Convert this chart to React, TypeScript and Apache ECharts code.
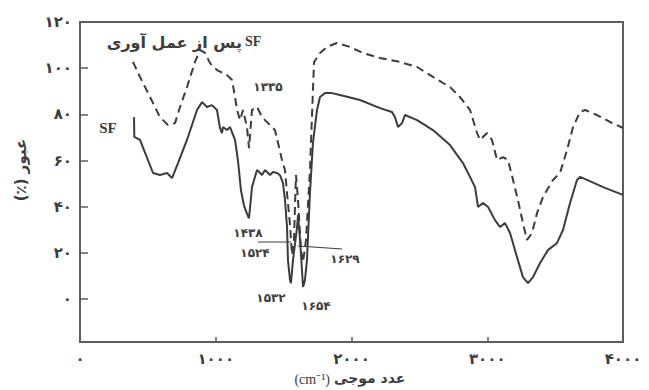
import React, { useEffect, useRef } from "react";
import * as echarts from "echarts";

// Wavenumber (cm^-1) / transmittance (%) for SF (solid)
const solidX = [398, 400, 442, 538, 589, 641, 678, 722, 788, 862, 899, 936, 972, 1009, 1031, 1046, 1053, 1083, 1105, 1142, 1164, 1186, 1208, 1230, 1245, 1267, 1304, 1341, 1363, 1400, 1422, 1451, 1473, 1495, 1510, 1525, 1532, 1547, 1554, 1569, 1599, 1606, 1621, 1643, 1657, 1672, 1694, 1716, 1746, 1768, 1805, 1856, 1915, 2063, 2210, 2298, 2320, 2343, 2372, 2394, 2483, 2600, 2726, 2821, 2873, 2910, 2932, 2969, 3006, 3057, 3094, 3131, 3168, 3219, 3263, 3300, 3337, 3389, 3447, 3514, 3558, 3610, 3661, 3683, 3735, 3853, 4000];
const solidY = [78.8, 70.2, 68.9, 54.6, 53.7, 54.6, 52.4, 58.9, 68.9, 81.9, 85.3, 83.2, 84.0, 81.9, 74.1, 71.9, 74.5, 73.2, 74.5, 68.9, 59.8, 47.0, 40.5, 37.0, 35.0, 48.5, 55.9, 53.7, 55.9, 53.7, 55.0, 54.6, 53.7, 50.3, 42.9, 31.2, 16.9, 8.2, 6.9, 16.9, 31.2, 36.4, 25.6, 5.2, 8.2, 16.9, 45.9, 67.6, 81.9, 87.5, 89.2, 89.2, 88.4, 86.2, 82.7, 81.0, 78.8, 74.5, 76.2, 79.7, 77.5, 73.2, 66.7, 58.9, 52.9, 48.5, 39.9, 41.6, 39.9, 34.2, 31.2, 32.9, 28.6, 18.2, 9.5, 6.9, 9.5, 15.6, 21.2, 24.3, 29.9, 41.6, 51.6, 52.9, 51.6, 48.5, 45.1];

// SF after treatment (dashed)
const dashedX = [390, 442, 516, 589, 648, 700, 737, 788, 847, 884, 921, 958, 1009, 1083, 1120, 1142, 1157, 1179, 1201, 1230, 1245, 1267, 1304, 1341, 1385, 1436, 1459, 1488, 1510, 1525, 1547, 1562, 1576, 1591, 1606, 1628, 1643, 1665, 1694, 1724, 1768, 1819, 1893, 1988, 2084, 2210, 2357, 2483, 2600, 2726, 2799, 2873, 2925, 2947, 2998, 3035, 3072, 3116, 3153, 3190, 3226, 3263, 3293, 3330, 3367, 3411, 3484, 3536, 3588, 3632, 3683, 3720, 3808, 3904, 4000];
const dashedY = [102.7, 96.2, 87.5, 78.8, 75.4, 76.2, 83.2, 91.8, 102.7, 107.9, 106.6, 102.2, 99.2, 97.0, 94.9, 87.5, 81.9, 77.5, 81.9, 74.5, 65.4, 81.9, 83.2, 78.8, 76.2, 73.2, 67.6, 60.2, 55.9, 45.9, 32.1, 19.1, 25.6, 53.7, 42.9, 21.2, 16.0, 25.6, 55.9, 102.7, 106.6, 109.2, 110.9, 109.2, 106.6, 104.4, 102.7, 100.5, 96.2, 91.8, 87.5, 81.9, 71.9, 68.9, 71.9, 68.9, 60.2, 61.5, 60.2, 51.6, 42.9, 32.9, 25.6, 28.6, 37.3, 44.2, 51.6, 54.6, 64.6, 74.5, 81.0, 81.9, 79.7, 76.7, 74.1];

const yTickValues = [0, 20, 40, 60, 80, 100, 120];
const xTickValues = [0, 1000, 2000, 3000, 4000];

const toFa = (s: string | number) =>
  String(s).replace(/\d/g, (d) => "۰۱۲۳۴۵۶۷۸۹"[Number(d)]);

const INK = "#3c3c3c";
const FRAME = "#5e5e5e";
const FA_FONT = "DejaVu Sans";
const W = 649;
const H = 390;
const G = { left: 80, right: 26, top: 22, bottom: 48 };

export default function App() {
  const ref = useRef<HTMLDivElement>(null);
  useEffect(() => {
    document.body.style.margin = "0";
    if (!ref.current) return;
    const chart = echarts.init(ref.current, undefined, { renderer: "svg" });
    const solid = solidX.map((x, i) => [x, solidY[i]]);
    const dashed = dashedX.map((x, i) => [x, dashedY[i]]);
    const txt = (
      text: string,
      x: number,
      y: number,
      size = 12,
      align = "center",
      family = FA_FONT,
      weight = "bold"
    ) => ({
      type: "text",
      x,
      y,
      z: 10,
      style: {
        text,
        fill: INK,
        font: `${weight} ${size}px "${family}"`,
        align,
        verticalAlign: "middle",
      },
    });
    const seg = (x1: number, y1: number, x2: number, y2: number, w = 1.2, c = INK) => ({
      type: "line",
      z: 10,
      shape: { x1, y1, x2, y2 },
      style: { stroke: c, lineWidth: w },
    });
    chart.setOption({
      animation: false,
      backgroundColor: "#ffffff",
      grid: { ...G },
      xAxis: {
        type: "value",
        min: 0,
        max: 4000,
        interval: 1000,
        axisLine: { show: true, onZero: false, lineStyle: { color: FRAME, width: 2 } },
        axisTick: { show: true, inside: true, length: 5, lineStyle: { color: FRAME, width: 1.5 } },
        splitLine: { show: false },
        axisLabel: {
          customValues: xTickValues,
          formatter: (v: number) => toFa(v),
          color: INK,
          fontFamily: FA_FONT,
          fontWeight: "bold",
          fontSize: 15,
          margin: 9,
        },
      },
      yAxis: {
        type: "value",
        min: -18.6,
        max: 120,
        axisLine: { show: true, onZero: false, lineStyle: { color: FRAME, width: 2 } },
        axisTick: {
          show: true,
          inside: true,
          length: 8,
          customValues: yTickValues,
          lineStyle: { color: FRAME, width: 1.5 },
        },
        splitLine: { show: false },
        axisLabel: {
          customValues: yTickValues,
          formatter: (v: number) => toFa(v),
          color: INK,
          fontFamily: FA_FONT,
          fontWeight: "bold",
          fontSize: 15,
          margin: 8,
        },
      },
      series: [
        {
          type: "line",
          data: dashed,
          showSymbol: false,
          lineStyle: { color: INK, width: 2, type: [8, 5] },
          z: 2,
        },
        {
          type: "line",
          data: solid,
          showSymbol: false,
          lineStyle: { color: INK, width: 2 },
          z: 3,
        },
      ],
      graphic: [
        {
          type: "rect",
          z: 1,
          shape: { x: G.left, y: G.top, width: W - G.left - G.right, height: H - G.top - G.bottom },
          style: { fill: "transparent", stroke: FRAME, lineWidth: 2 },
        },
        txt("پس از عمل آوری", 242, 42, 16, "right"),
        txt("SF", 245, 41, 14, "left", "Liberation Serif"),
        txt("SF", 108, 128, 15, "center", "Liberation Serif"),
        txt("۱۳۳۵", 268, 87),
        txt("۱۴۳۸", 248, 233),
        txt("۱۵۲۴", 255, 253),
        txt("۱۵۳۲", 271, 298),
        txt("۱۶۵۴", 316, 306),
        txt("۱۶۲۹", 345, 259),
        seg(258, 242, 291, 242),
        seg(298, 246, 342, 249),
        {
          type: "text",
          x: 21,
          y: 170,
          z: 10,
          rotation: Math.PI / 2,
          style: {
            text: "(٪) عبور",
            fill: INK,
            font: `bold 15px "${FA_FONT}"`,
            align: "center",
            verticalAlign: "middle",
          },
        },
        txt("(cm⁻¹)", 330, 379, 14, "right", "Liberation Serif", "normal"),
        txt("عدد موجی", 334, 378, 14, "left"),
      ],
    });
    return () => chart.dispose();
  }, []);
  return <div ref={ref} style={{ width: W, height: H }} />;
}
